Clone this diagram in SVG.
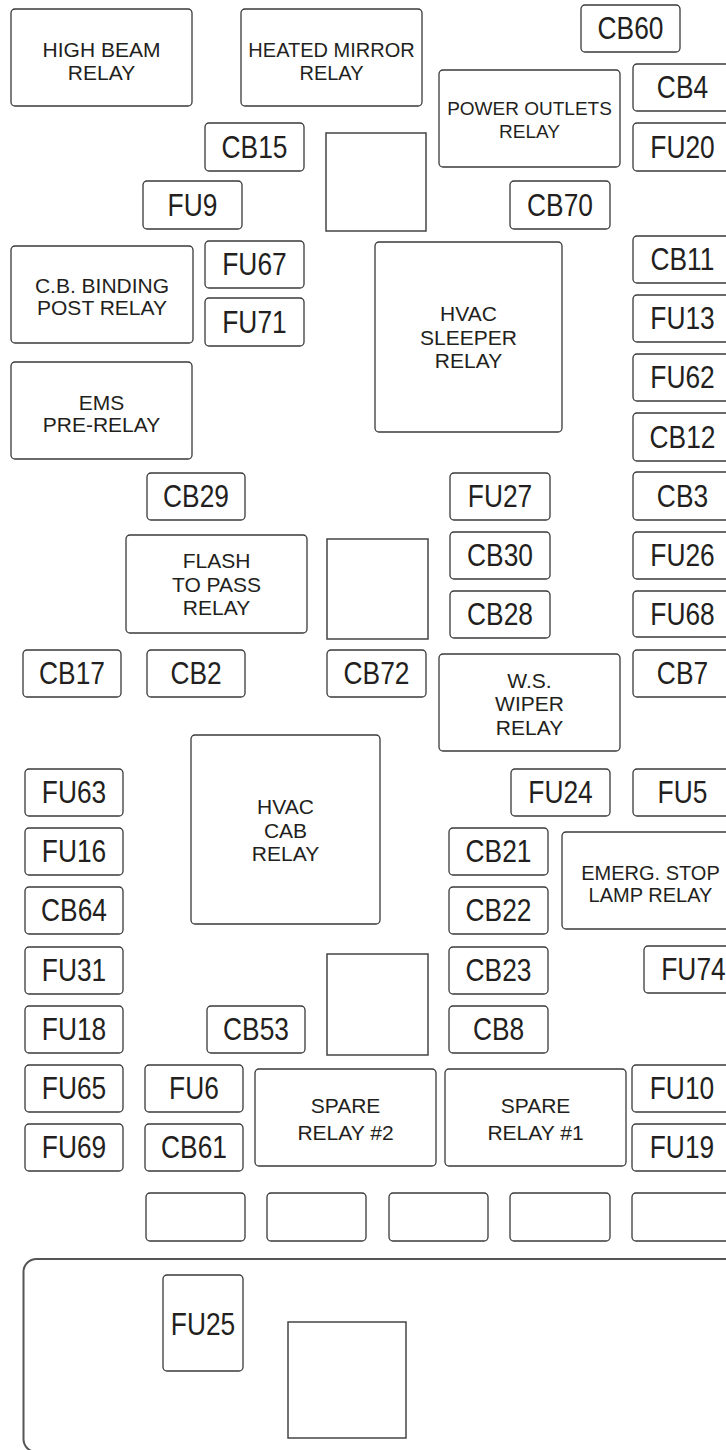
<svg xmlns="http://www.w3.org/2000/svg" width="726" height="1450" viewBox="0 0 726 1450">
<style>
.bg{fill:#fff}
.box{fill:#fff;stroke:#3a3a3a;stroke-width:1.3}
.sq{fill:#fff;stroke:#444;stroke-width:1.5}
.outer{fill:none;stroke:#555;stroke-width:2}
.lbl{font-family:"Liberation Sans",Arial,sans-serif;font-size:31px;fill:#231f20;text-anchor:middle;transform-box:fill-box;transform-origin:center;transform:scaleX(0.85)}
.rt{font-family:"Liberation Sans",Arial,sans-serif;font-size:21px;fill:#231f20;text-anchor:middle}
.rs{font-size:20px}
</style>
<rect class="bg" x="0" y="0" width="726" height="1450"/>
<g id="connectors"></g>

<g id="housing"><rect class="outer" x="23.5" y="1259" width="760" height="193" rx="13"/></g>

<!-- relays -->
<g id="high-beam-relay"><rect class="box" x="11" y="9" width="181" height="97" rx="4"/><text class="rt" x="101.5" y="57">HIGH BEAM</text><text class="rt" x="101.5" y="80">RELAY</text></g>
<g id="heated-mirror-relay"><rect class="box" x="241" y="9" width="181" height="97" rx="4"/><text class="rt rs" x="331.5" y="57">HEATED MIRROR</text><text class="rt rs" x="331.5" y="80">RELAY</text></g>
<g id="power-outlets-relay"><rect class="box" x="439" y="70" width="181" height="97" rx="4"/><text class="rt" x="529.5" y="115" style="font-size:19px">POWER OUTLETS</text><text class="rt" x="529.5" y="138" style="font-size:19px">RELAY</text></g>
<g id="cb-binding-post-relay"><rect class="box" x="11" y="246" width="182" height="97" rx="4"/><text class="rt" x="102" y="293">C.B. BINDING</text><text class="rt" x="102" y="315">POST RELAY</text></g>
<g id="ems-pre-relay"><rect class="box" x="11" y="362" width="181" height="97" rx="4"/><text class="rt" x="101.5" y="410">EMS</text><text class="rt" x="101.5" y="432">PRE-RELAY</text></g>
<g id="flash-to-pass-relay"><rect class="box" x="126" y="535" width="181" height="98" rx="4"/><text class="rt" x="216.5" y="568">FLASH</text><text class="rt" x="216.5" y="591.5">TO PASS</text><text class="rt" x="216.5" y="615">RELAY</text></g>
<g id="hvac-sleeper-relay"><rect class="box" x="375" y="242" width="187" height="190" rx="4"/><text class="rt" x="468.5" y="321">HVAC</text><text class="rt" x="468.5" y="345">SLEEPER</text><text class="rt" x="468.5" y="368">RELAY</text></g>
<g id="ws-wiper-relay"><rect class="box" x="439" y="654" width="181" height="97" rx="4"/><text class="rt" x="529.5" y="688">W.S.</text><text class="rt" x="529.5" y="711">WIPER</text><text class="rt" x="529.5" y="735">RELAY</text></g>
<g id="hvac-cab-relay"><rect class="box" x="191" y="735" width="189" height="189" rx="4"/><text class="rt" x="285.5" y="814">HVAC</text><text class="rt" x="285.5" y="837.5">CAB</text><text class="rt" x="285.5" y="861">RELAY</text></g>
<g id="emerg-stop-lamp-relay"><rect class="box" x="562" y="832" width="180" height="97" rx="4"/><text class="rt rs" x="650.5" y="880">EMERG. STOP</text><text class="rt rs" x="650.5" y="902">LAMP RELAY</text></g>
<g id="spare-relay-2"><rect class="box" x="255" y="1069" width="181" height="97" rx="4"/><text class="rt" x="345.5" y="1113">SPARE</text><text class="rt" x="345.5" y="1140">RELAY #2</text></g>
<g id="spare-relay-1"><rect class="box" x="445" y="1069" width="181" height="97" rx="4"/><text class="rt" x="535.5" y="1113">SPARE</text><text class="rt" x="535.5" y="1140">RELAY #1</text></g>

<!-- empty squares -->
<g id="sq1"><rect class="sq" x="326" y="133" width="100" height="98"/></g>
<g id="sq2"><rect class="sq" x="327" y="539" width="101" height="100"/></g>
<g id="sq3"><rect class="sq" x="327" y="954" width="101" height="101"/></g>
<g id="sq4"><rect class="sq" x="288" y="1322" width="118" height="116"/></g>

<!-- empty slots -->
<g id="slot1"><rect class="box" x="146" y="1193" width="99" height="48" rx="4"/></g>
<g id="slot2"><rect class="box" x="267" y="1193" width="99" height="48" rx="4"/></g>
<g id="slot3"><rect class="box" x="389" y="1193" width="99" height="48" rx="4"/></g>
<g id="slot4"><rect class="box" x="510" y="1193" width="100" height="48" rx="4"/></g>
<g id="slot5"><rect class="box" x="632" y="1193" width="100" height="48" rx="4"/></g>

<!-- fuses / breakers -->
<g id="CB60"><rect class="box" x="581" y="5" width="99" height="47" rx="4"/><text class="lbl" x="630.5" y="39.5">CB60</text></g>
<g id="CB4"><rect class="box" x="633" y="64" width="99" height="47" rx="4"/><text class="lbl" x="682.5" y="98.5">CB4</text></g>
<g id="FU20"><rect class="box" x="633" y="123" width="99" height="48" rx="4"/><text class="lbl" x="682.5" y="158">FU20</text></g>
<g id="CB15"><rect class="box" x="205" y="123" width="99" height="48" rx="4"/><text class="lbl" x="254.5" y="158">CB15</text></g>
<g id="FU9"><rect class="box" x="143" y="181" width="99" height="48" rx="4"/><text class="lbl" x="192.5" y="216">FU9</text></g>
<g id="CB70"><rect class="box" x="510" y="181" width="100" height="48" rx="4"/><text class="lbl" x="560" y="216">CB70</text></g>
<g id="CB11"><rect class="box" x="633" y="236" width="99" height="47" rx="4"/><text class="lbl" x="682.5" y="270.5">CB11</text></g>
<g id="FU67"><rect class="box" x="205" y="241" width="99" height="47" rx="4"/><text class="lbl" x="254.5" y="275.5">FU67</text></g>
<g id="FU13"><rect class="box" x="633" y="295" width="99" height="47" rx="4"/><text class="lbl" x="682.5" y="329.5">FU13</text></g>
<g id="FU71"><rect class="box" x="205" y="298" width="99" height="48" rx="4"/><text class="lbl" x="254.5" y="333">FU71</text></g>
<g id="FU62"><rect class="box" x="633" y="354" width="99" height="47" rx="4"/><text class="lbl" x="682.5" y="388.5">FU62</text></g>
<g id="CB12"><rect class="box" x="633" y="413" width="99" height="48" rx="4"/><text class="lbl" x="682.5" y="448">CB12</text></g>
<g id="CB29"><rect class="box" x="147" y="473" width="98" height="47" rx="4"/><text class="lbl" x="196" y="507.5">CB29</text></g>
<g id="FU27"><rect class="box" x="450" y="473" width="100" height="47" rx="4"/><text class="lbl" x="500" y="507.5">FU27</text></g>
<g id="CB3"><rect class="box" x="633" y="472" width="99" height="48" rx="4"/><text class="lbl" x="682.5" y="507">CB3</text></g>
<g id="CB30"><rect class="box" x="450" y="532" width="100" height="47" rx="4"/><text class="lbl" x="500" y="566.5">CB30</text></g>
<g id="FU26"><rect class="box" x="633" y="532" width="99" height="47" rx="4"/><text class="lbl" x="682.5" y="566.5">FU26</text></g>
<g id="CB28"><rect class="box" x="450" y="591" width="100" height="47" rx="4"/><text class="lbl" x="500" y="625.5">CB28</text></g>
<g id="FU68"><rect class="box" x="633" y="591" width="99" height="46" rx="4"/><text class="lbl" x="682.5" y="625">FU68</text></g>
<g id="CB17"><rect class="box" x="23" y="650" width="98" height="47" rx="4"/><text class="lbl" x="72" y="684.5">CB17</text></g>
<g id="CB2"><rect class="box" x="147" y="650" width="98" height="47" rx="4"/><text class="lbl" x="196" y="684.5">CB2</text></g>
<g id="CB72"><rect class="box" x="327" y="650" width="99" height="47" rx="4"/><text class="lbl" x="376.5" y="684.5">CB72</text></g>
<g id="CB7"><rect class="box" x="633" y="650" width="99" height="47" rx="4"/><text class="lbl" x="682.5" y="684.5">CB7</text></g>
<g id="FU63"><rect class="box" x="25" y="769" width="98" height="47" rx="4"/><text class="lbl" x="74" y="803.5">FU63</text></g>
<g id="FU24"><rect class="box" x="511" y="769" width="99" height="47" rx="4"/><text class="lbl" x="560.5" y="803.5">FU24</text></g>
<g id="FU5"><rect class="box" x="633" y="769" width="99" height="47" rx="4"/><text class="lbl" x="682.5" y="803.5">FU5</text></g>
<g id="FU16"><rect class="box" x="25" y="828" width="98" height="47" rx="4"/><text class="lbl" x="74" y="862.5">FU16</text></g>
<g id="CB21"><rect class="box" x="449" y="828" width="99" height="47" rx="4"/><text class="lbl" x="498.5" y="862.5">CB21</text></g>
<g id="CB64"><rect class="box" x="25" y="887" width="98" height="47" rx="4"/><text class="lbl" x="74" y="921.5">CB64</text></g>
<g id="CB22"><rect class="box" x="449" y="887" width="99" height="47" rx="4"/><text class="lbl" x="498.5" y="921.5">CB22</text></g>
<g id="FU31"><rect class="box" x="25" y="947" width="98" height="47" rx="4"/><text class="lbl" x="74" y="981.5">FU31</text></g>
<g id="CB23"><rect class="box" x="449" y="947" width="99" height="47" rx="4"/><text class="lbl" x="498.5" y="981.5">CB23</text></g>
<g id="FU74"><rect class="box" x="644" y="946" width="99" height="47" rx="4"/><text class="lbl" x="693.5" y="980.5">FU74</text></g>
<g id="FU18"><rect class="box" x="25" y="1006" width="98" height="47" rx="4"/><text class="lbl" x="74" y="1040.5">FU18</text></g>
<g id="CB53"><rect class="box" x="207" y="1006" width="98" height="47" rx="4"/><text class="lbl" x="256" y="1040.5">CB53</text></g>
<g id="CB8"><rect class="box" x="449" y="1006" width="99" height="47" rx="4"/><text class="lbl" x="498.5" y="1040.5">CB8</text></g>
<g id="FU65"><rect class="box" x="25" y="1065" width="98" height="47" rx="4"/><text class="lbl" x="74" y="1099.5">FU65</text></g>
<g id="FU6"><rect class="box" x="145" y="1065" width="98" height="47" rx="4"/><text class="lbl" x="194" y="1099.5">FU6</text></g>
<g id="FU10"><rect class="box" x="632" y="1065" width="100" height="47" rx="4"/><text class="lbl" x="682" y="1099.5">FU10</text></g>
<g id="FU69"><rect class="box" x="25" y="1124" width="98" height="47" rx="4"/><text class="lbl" x="74" y="1158.5">FU69</text></g>
<g id="CB61"><rect class="box" x="145" y="1124" width="98" height="47" rx="4"/><text class="lbl" x="194" y="1158.5">CB61</text></g>
<g id="FU19"><rect class="box" x="632" y="1124" width="100" height="47" rx="4"/><text class="lbl" x="682" y="1158.5">FU19</text></g>
<g id="FU25"><rect class="box" x="163" y="1275" width="80" height="96" rx="4"/><text class="lbl" x="203" y="1335">FU25</text></g>
</svg>
